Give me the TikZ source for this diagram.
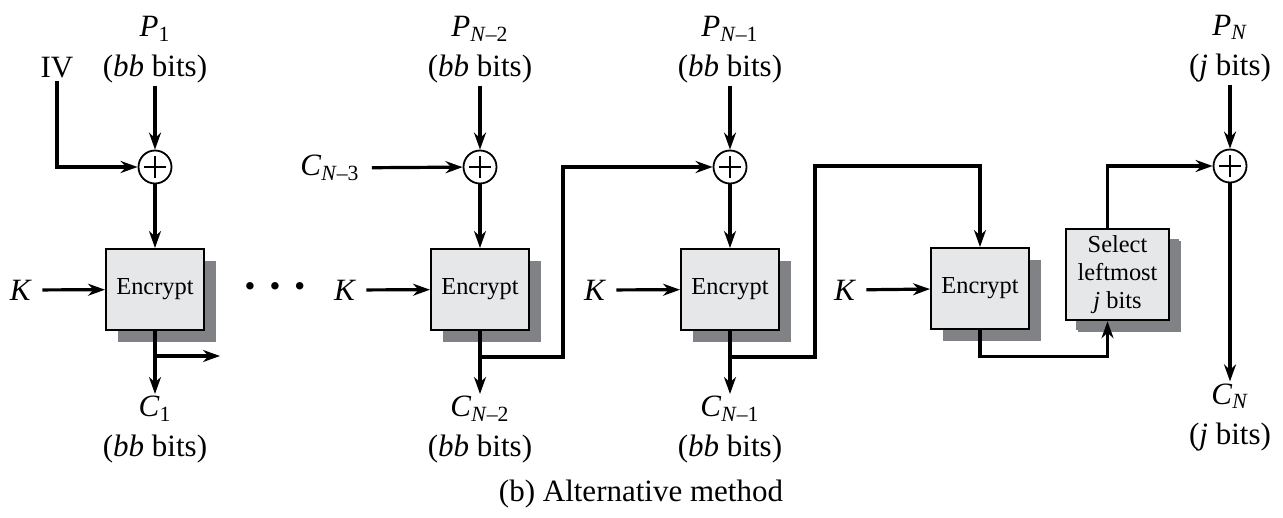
\documentclass[tikz,border=0pt]{standalone}
\usepackage{fontspec}
\setmainfont{Liberation Serif}
\usepackage{xcolor}
\usepackage{tikz}
\usetikzlibrary{arrows.meta,positioning,shadows}
\definecolor{boxgray}{HTML}{E6E7E8}
\definecolor{shadowgray}{HTML}{808285}
\newcommand{\blk}[2]{\textit{#1}\textsubscript{#2}}

\begin{document}
\begin{tikzpicture}[x=0.5pt,y=-0.5pt,
    txt/.style={font=\fontsize{15.5}{20}\selectfont,align=center,inner sep=1pt},
    encbox/.style={draw,line width=1pt,fill=boxgray,minimum width=49pt,minimum height=40.5pt,
      font=\fontsize{12.2}{14}\selectfont,align=center,
      drop shadow={shadow xshift=6pt,shadow yshift=-6pt,fill=shadowgray,opacity=1}},
    xorop/.style={draw,circle,line width=0.9pt,minimum size=16.5pt,inner sep=0pt,fill=white,
      path picture={\draw[line width=0.6pt]
        ([xshift=-5.6pt]path picture bounding box.center) -- ([xshift=5.6pt]path picture bounding box.center)
        ([yshift=-5.6pt]path picture bounding box.center) -- ([yshift=5.6pt]path picture bounding box.center);}},
    arr/.style={-{Stealth[length=8.5pt,width=6pt]},line width=1.6pt}]
  \useasboundingbox (0,0) rectangle (1283,518);

  % xor gates and cipher blocks
  \node[xorop] (x1) at (155,167) {};
  \node[xorop] (x2) at (480,167) {};
  \node[xorop] (x3) at (730,167) {};
  \node[xorop] (x4) at (1230,166) {};
  \node[encbox] (e1) at (155,289.5) {Encrypt};
  \node[encbox] (e2) at (480,289.5) {Encrypt};
  \node[encbox] (e3) at (730,289.5) {Encrypt};
  \node[encbox] (e4) at (980,288.5) {Encrypt};
  \node[encbox,minimum width=51.5pt,minimum height=45.5pt,
    drop shadow={shadow xshift=5pt,shadow yshift=-5pt,fill=shadowgray,opacity=1}] (sel) at (1117.5,274.5) {Select\\leftmost\\\textit{j} bits};

  % plaintext inputs
  \node[txt,above=32pt of x1] (p1) {\blk{P}{1}\\(\textit{bb} bits)};
  \node[txt,above=32pt of x2] (pn2) {\blk{P}{\textit{N}–2}\\(\textit{bb} bits)};
  \node[txt,above=32pt of x3] (pn1) {\blk{P}{\textit{N}–1}\\(\textit{bb} bits)};
  \node[txt,above=32pt of x4] (pn) {\blk{P}{\textit{N}}\\(\textit{j} bits)};

  % ciphertext outputs
  \node[txt,below=31.5pt of e1] (c1) {\blk{C}{1}\\(\textit{bb} bits)};
  \node[txt,below=31.5pt of e2] (cn2) {\blk{C}{\textit{N}–2}\\(\textit{bb} bits)};
  \node[txt,below=31.5pt of e3] (cn1) {\blk{C}{\textit{N}–1}\\(\textit{bb} bits)};
  \node[txt,below=99pt of x4] (cn) {\blk{C}{\textit{N}}\\(\textit{j} bits)};

  % other inputs
  \node[txt] (iv) at (57,68) {IV};
  \node[txt] (cn3) at (330,168) {\blk{C}{\textit{N}–3}};
  \node[txt] (k1) at (21,290) {\textit{K}};
  \node[txt] (k2) at (345,290) {\textit{K}};
  \node[txt] (k3) at (595,290) {\textit{K}};
  \node[txt] (k4) at (845,290) {\textit{K}};
  \node[txt] (dots) at (275,290) {\textbullet\hspace{7pt}\textbullet\hspace{7pt}\textbullet};

  \coordinate (j1) at (155,356);
  \coordinate (j1e) at (220,356);
  \coordinate (j2) at (480,357);
  \coordinate (j3) at (730,357);

  \draw[arr] (p1) -- (x1);
  \draw[arr] (pn2) -- (x2);
  \draw[arr] (pn1) -- (x3);
  \draw[arr] (pn) -- (x4);
  \draw[arr] (iv) |- (x1);
  \draw[arr,shorten <=5pt] (cn3) -- (x2);
  \draw[arr] (x1) -- (e1);
  \draw[arr] (x2) -- (e2);
  \draw[arr] (x3) -- (e3);
  \draw[arr,shorten <=4pt] (k1) -- (e1);
  \draw[arr,shorten <=4pt] (k2) -- (e2);
  \draw[arr,shorten <=4pt] (k3) -- (e3);
  \draw[arr,shorten <=4pt] (k4) -- (e4);
  \draw[arr] (e1) -- (c1);
  \draw[arr] (e2) -- (cn2);
  \draw[arr] (e3) -- (cn1);
  \draw[arr] (x4) -- (cn);
  \draw[arr] (j1) -- (j1e);
  \draw[arr] (j2) -- ++(83,0) |- (x3);
  \draw[arr] (j3) -- ++(85,0) -- ++(0,-191) -| (e4);
  \draw[arr] (e4) -- ++(0,68) -| ([xshift=-5pt]sel.south);
  \draw[arr] ([xshift=-5pt]sel.north) |- (x4);

  \node[txt] (cap) at (641,494) {(b) Alternative method};
\end{tikzpicture}
\end{document}
